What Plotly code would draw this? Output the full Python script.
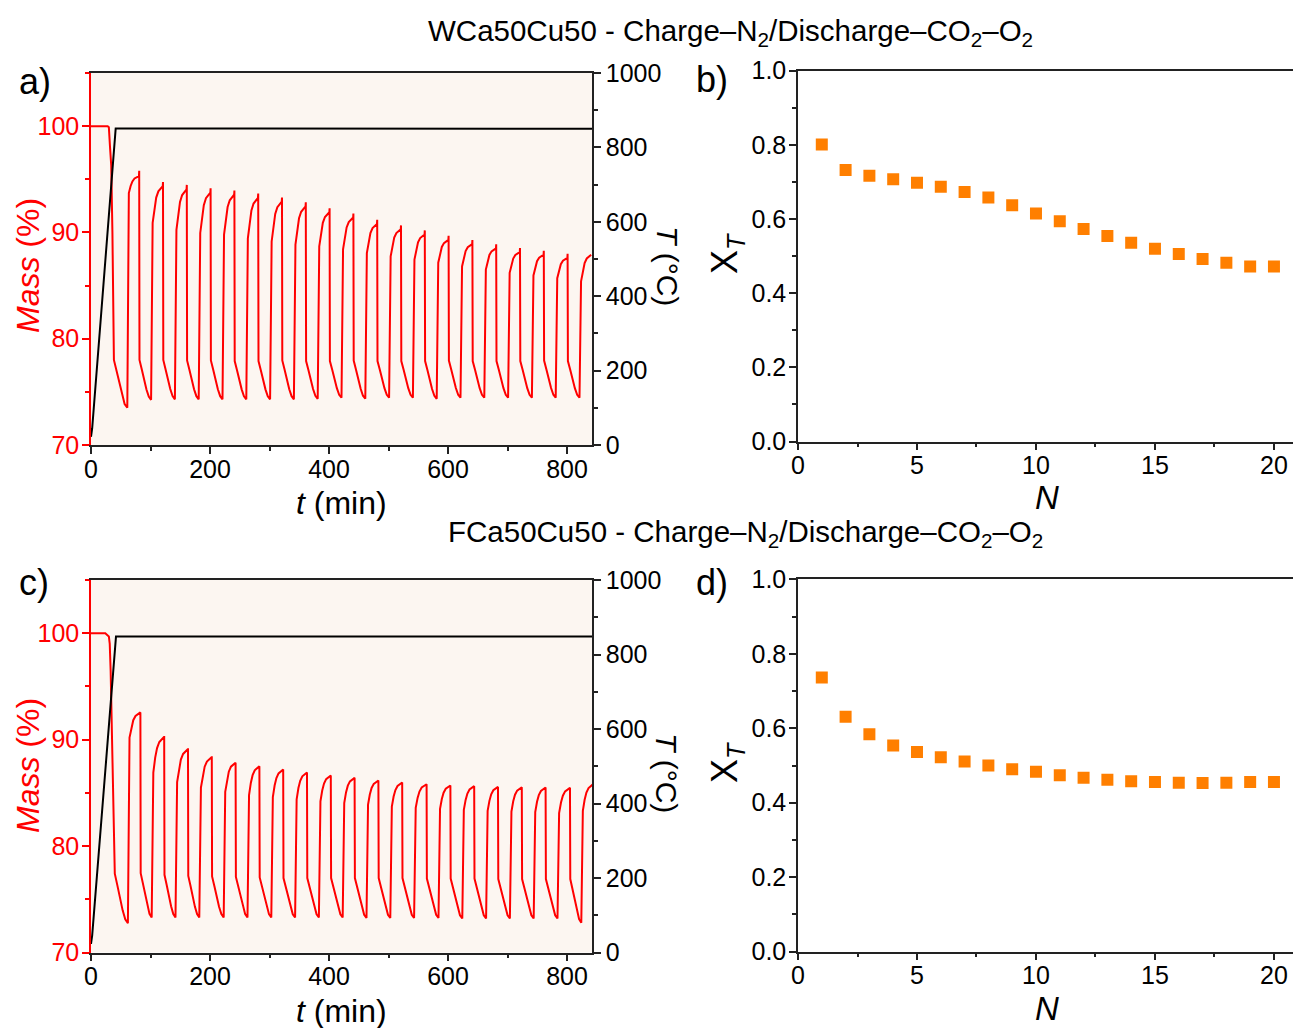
import plotly.graph_objects as go

W, H = 1293, 1028

# ---------------- Panel a: WCa50Cu50 (mass %) ----------------
a_init_t = [0, 28, 30, 31, 32, 34, 36, 38.5]
a_init_m = [100, 100, 99.9, 99.3, 98.0, 96.3, 90.0, 78.0]
a_trough_t = [61, 101, 141, 181, 221, 261, 301, 341, 381, 421, 461, 501, 541, 581, 621, 661, 701, 741, 781, 821]
a_trough_m = [73.5, 74.25, 74.3, 74.3, 74.3, 74.3, 74.3, 74.3, 74.35, 74.45, 74.35, 74.45, 74.45, 74.35,
              74.45, 74.45, 74.45, 74.45, 74.45, 74.45]
a_knee_m = [93.7, 90.9, 90.25, 89.95, 89.8, 89.45, 89.15, 88.85, 88.7, 88.4, 88.05, 87.75, 87.45, 87.15,
            86.8, 86.5, 86.2, 85.95, 85.7, 85.4]
a_top_m = [95.3, 94.35, 94.05, 93.75, 93.55, 93.25, 92.9, 92.45, 91.9, 91.4, 90.8, 90.3, 89.8, 89.3,
           88.9, 88.5, 88.15, 87.9, 87.6, 87.9]
a_peak_t = [81, 121, 161, 201, 241, 281, 321, 361, 401, 441, 481, 521, 561, 601, 641, 681, 721, 761, 801]
a_spike_m = [95.8, 94.75, 94.47, 94.16, 93.94, 93.66, 93.28, 92.84, 92.28, 91.78, 91.19, 90.66, 90.19,
             89.69, 89.28, 88.88, 88.53, 88.28, 88.0]
a_drop_m = [78.0, 78.0, 77.95, 77.95, 77.9, 77.9, 77.95, 77.9, 77.9, 77.95, 77.9, 77.9, 77.9, 77.95,
            77.9, 77.9, 77.9, 77.95, 77.9]
a_temp_t = [0, 2, 41.5, 842]
a_temp = [22, 45, 851, 850]

# ---------------- Panel c: FCa50Cu50 ----------------
c_init_t = [0, 24, 30, 31.5, 33, 35, 37.5, 40]
c_init_m = [100, 100, 99.7, 99.0, 96.5, 91.0, 84.0, 77.4]
c_trough_t = [62, 102, 142, 182, 223, 263, 303, 343, 383, 423, 463, 503, 543, 584, 624, 664, 704, 744, 784, 824]
c_trough_m = [72.75, 73.3, 73.3, 73.3, 73.3, 73.3, 73.3, 73.3, 73.3, 73.3, 73.25, 73.25, 73.25, 73.25,
              73.2, 73.2, 73.2, 73.2, 73.2, 72.8]
c_knee_m = [90.2, 86.9, 86.0, 85.5, 85.1, 84.8, 84.6, 84.4, 84.2, 84.05, 83.9, 83.7, 83.6, 83.5,
            83.4, 83.3, 83.25, 83.2, 83.1, 83.3]
c_top_m = [92.56, 90.25, 89.09, 88.34, 87.84, 87.5, 87.19, 86.91, 86.63, 86.41, 86.16, 85.97, 85.81,
           85.69, 85.63, 85.56, 85.53, 85.5, 85.47, 85.8]
c_peak_t = [83, 123, 163, 203, 243, 283, 323, 363, 403, 443, 483, 523, 564, 604, 644, 684, 724, 764, 805]
c_spike_m = c_top_m[:19]
c_drop_m = [77.45, 77.3, 77.2, 77.15, 77.1, 77.05, 77.0, 77.0, 77.0, 77.0, 77.0, 77.0, 76.95, 76.95,
            76.95, 76.9, 76.9, 76.9, 76.9]
c_temp_t = [0, 2, 42, 842]
c_temp = [23, 46, 848, 848]

# shape of one step (fractions of each step)
rise_tf = [0.13, 0.28, 0.43, 0.61, 0.83, 0.98]
rise_mf = [0.0, 0.42, 0.69, 0.86, 0.96, 1.0]
decay_tf = [0.2, 0.4, 0.6, 0.8]
decay_mf = [0.24, 0.5, 0.74, 0.92]

# ---------------- Panels b / d ----------------
N = list(range(1, 21))
XT_b = [0.801, 0.732, 0.717, 0.707, 0.698, 0.687, 0.673, 0.658, 0.637, 0.615, 0.594, 0.573, 0.554,
        0.536, 0.520, 0.506, 0.492, 0.482, 0.472, 0.472]
XT_d = [0.736, 0.631, 0.584, 0.554, 0.536, 0.522, 0.511, 0.500, 0.490, 0.483, 0.474, 0.467, 0.462,
        0.458, 0.456, 0.454, 0.453, 0.454, 0.456, 0.456]


def build(init_t, init_m, tr_t, tr_m, knee, top, pk_t, spike, drop, t_end):
    ts = list(init_t)
    ms = list(init_m)

    def decay(t1, m1, t2, m2):
        for f, g in zip(decay_tf, decay_mf):
            ts.append(t1 + f * (t2 - t1))
            ms.append(m1 + g * (m2 - m1))
        ts.append(t2)
        ms.append(m2)

    decay(init_t[-1], init_m[-1], tr_t[0], tr_m[0])
    for i in range(len(tr_t)):
        t0 = tr_t[i]
        tp = pk_t[i] if i < len(pk_t) else t_end
        for f, g in zip(rise_tf, rise_mf):
            ts.append(t0 + f * (tp - t0))
            ms.append(knee[i] + g * (top[i] - knee[i]))
        if i < len(pk_t):
            ts.append(tp)
            ms.append(spike[i])
            ts.append(tp + 0.5)
            ms.append(drop[i])
            decay(tp + 0.5, drop[i], tr_t[i + 1], tr_m[i + 1])
    return ts, ms


a_t, a_m = build(a_init_t, a_init_m, a_trough_t, a_trough_m, a_knee_m, a_top_m, a_peak_t,
                 a_spike_m, a_drop_m, 841)
c_t, c_m = build(c_init_t, c_init_m, c_trough_t, c_trough_m, c_knee_m, c_top_m, c_peak_t,
                 c_spike_m, c_drop_m, 844)

FONT = "Liberation Sans, Arial, sans-serif"
RED = "#ff0000"
ORANGE = "#ff7f00"
AX = "#222222"

fig = go.Figure()
fig.add_trace(go.Scatter(x=a_t, y=a_m, mode="lines", line=dict(color=RED, width=2), xaxis="x", yaxis="y"))
fig.add_trace(go.Scatter(x=a_temp_t, y=a_temp, mode="lines", line=dict(color="black", width=2),
                         xaxis="x", yaxis="y2"))
fig.add_trace(go.Scatter(x=N, y=XT_b, mode="markers",
                         marker=dict(symbol="square", size=12, color=ORANGE), xaxis="x2", yaxis="y3"))
fig.add_trace(go.Scatter(x=c_t, y=c_m, mode="lines", line=dict(color=RED, width=2), xaxis="x3", yaxis="y4"))
fig.add_trace(go.Scatter(x=c_temp_t, y=c_temp, mode="lines", line=dict(color="black", width=2),
                         xaxis="x3", yaxis="y5"))
fig.add_trace(go.Scatter(x=N, y=XT_d, mode="markers",
                         marker=dict(symbol="square", size=12, color=ORANGE), xaxis="x4", yaxis="y6"))

TF = dict(family=FONT, size=25, color="black")
TFR = dict(family=FONT, size=25, color=RED)


def xax(domain, anchor, rng, dtick, minor_dtick):
    return dict(domain=domain, anchor=anchor, range=rng, dtick=dtick, tick0=0, automargin=False,
                ticks="outside", ticklen=7, tickwidth=1.5, tickcolor=AX, ticklabelstandoff=-6,
                minor=dict(dtick=minor_dtick, tick0=0, ticks="outside", ticklen=4, tickcolor=AX, tickwidth=1.5),
                showline=True, linecolor=AX, linewidth=1.5, mirror=True,
                showgrid=False, zeroline=False, tickfont=TF)


def yax(domain, anchor, rng, dtick, minor_dtick, color=AX, font=TF, fmt=None, standoff=-2, **kw):
    d = dict(domain=domain, anchor=anchor, range=rng, dtick=dtick, tick0=rng[0], automargin=False,
             ticks="outside", ticklen=7, tickwidth=1.5, tickcolor=color, ticklabelstandoff=standoff,
             minor=dict(dtick=minor_dtick, tick0=rng[0], ticks="outside", ticklen=4, tickcolor=color, tickwidth=1.5),
             showline=True, linecolor=color, linewidth=1.5,
             showgrid=False, zeroline=False, tickfont=font)
    if fmt:
        d["tickformat"] = fmt
    d.update(kw)
    return d


xa_dom = [91 / W, 592 / W]
xb_dom = [798 / W, 1.0]
ya_dom = [1 - 445 / H, 1 - 73 / H]
yb_dom = [1 - 441.5 / H, 1 - 70.7 / H]
yc_dom = [1 - 952.5 / H, 1 - 580 / H]
yd_dom = [1 - 951.7 / H, 1 - 579.3 / H]

fig.update_layout(
    width=W, height=H, margin=dict(l=0, r=0, t=0, b=0, pad=0, autoexpand=False),
    paper_bgcolor="white", plot_bgcolor="white", showlegend=False,
    font=dict(family=FONT, color="black"),
    xaxis=xax(xa_dom, "y", [0, 842], 200, 100),
    yaxis=yax(ya_dom, "x", [70, 105], 10, 5, color=RED, font=TFR),
    yaxis2=yax(ya_dom, "x", [0, 1000], 200, 100, overlaying="y", side="right", standoff=0),
    xaxis2=xax(xb_dom, "y3", [0, 20.8], 5, 2.5),
    yaxis3=yax(yb_dom, "x2", [0, 1], 0.2, 0.1, fmt=".1f"),
    xaxis3=xax(xa_dom, "y4", [0, 842], 200, 100),
    yaxis4=yax(yc_dom, "x3", [70, 105], 10, 5, color=RED, font=TFR),
    yaxis5=yax(yc_dom, "x3", [0, 1000], 200, 100, overlaying="y4", side="right", standoff=0),
    xaxis4=xax(xb_dom, "y6", [0, 20.8], 5, 2.5),
    yaxis6=yax(yd_dom, "x4", [0, 1], 0.2, 0.1, fmt=".1f"),
)

# beige plot areas of a and c
for xr, yr in (("x", "y"), ("x3", "y4")):
    fig.add_shape(type="rect", xref=xr + " domain", yref=yr + " domain", x0=0, x1=1, y0=0, y1=1,
                  fillcolor="#fcf6f1", line=dict(width=0), layer="below")


def ann(px, py, text, size, color="black", angle=0, xanchor="center"):
    fig.add_annotation(x=px / W, y=1 - py / H, xref="paper", yref="paper", text=text, showarrow=False,
                       font=dict(family=FONT, size=size, color=color), textangle=angle,
                       xanchor=xanchor, yanchor="middle")


ann(730, 32, "WCa50Cu50 - Charge–N<sub>2</sub>/Discharge–CO<sub>2</sub>–O<sub>2</sub>", 29.5)
ann(745, 533, "FCa50Cu50 - Charge–N<sub>2</sub>/Discharge–CO<sub>2</sub>–O<sub>2</sub>", 29.5)
ann(17, 82, "a)", 36, xanchor="left")
ann(694, 80, "b)", 36, xanchor="left")
ann(17, 582, "c)", 36, xanchor="left")
ann(694, 582, "d)", 36, xanchor="left")
for yc in (266, 766):
    ann(28, yc, "<i>Mass</i> (%)", 32, color=RED, angle=-90)
for yc in (266, 773):
    ann(667, yc, "<i>T</i> (°C)", 30, angle=90)
for yc in (503, 1011):
    ann(341, yc, "<i>t</i> (min)", 32)
for yc in (253, 762):
    ann(727, yc, "X<sub><i>T</i></sub>", 36, angle=-90)
for yc in (497, 1008):
    ann(1047, yc, "<i>N</i>", 33)

fig.write_html("out.html")
